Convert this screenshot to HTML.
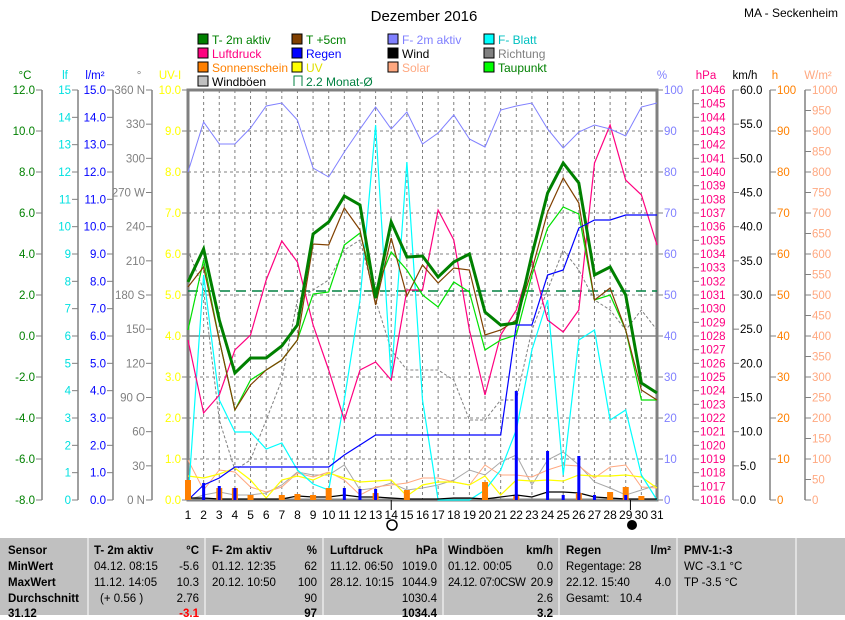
<!DOCTYPE html>
<html><head><meta charset="utf-8"><style>
body{margin:0;background:#fff;width:845px;height:615px;overflow:hidden;font-family:"Liberation Sans",sans-serif}
svg text{font-family:"Liberation Sans",sans-serif}
#tbl{position:absolute;left:0;top:538px;width:845px;height:77px;background:#c0c0c0;font-size:11.5px;font-family:"Liberation Sans",sans-serif}
#tbl div{position:absolute;white-space:nowrap}
</style></head><body>
<svg id="s" width="845" height="538" style="position:absolute;left:0;top:0" xmlns="http://www.w3.org/2000/svg"></svg>
<div id="tbl"></div>
<script>
var s=document.getElementById('s'),h='';
function L(x1,y1,x2,y2,c,w,d){h+='<line x1="'+x1+'" y1="'+y1+'" x2="'+x2+'" y2="'+y2+'" stroke="'+c+'" stroke-width="'+(w||1)+'"'+(d?' stroke-dasharray="'+d+'"':'')+'/>';}
function T(x,y,t,c,a,fs){h+='<text x="'+x+'" y="'+y+'" fill="'+c+'" font-size="'+(fs||12)+'" text-anchor="'+(a||'start')+'">'+t+'</text>';}
var X0=188,X1=657,Y0=90,Y1=500,dx=(X1-X0)/30;
function dxp(d){return X0+(d-1)*dx;}
T(424,21,'Dezember 2016','#000','middle',15);
T(838,17,'MA - Seckenheim','#000','end',12);
var lg=[[198,40,'#008000','T- 2m aktiv','#008000'],[292,40,'#804000','T +5cm','#008000'],[388,40,'#8080ff','F- 2m aktiv','#8080ff'],[484,40,'#00ffff','F- Blatt','#00c0c0'],
[198,54,'#ff0080','Luftdruck','#ff0080'],[292,54,'#0000ff','Regen','#0000ff'],[388,54,'#000','Wind','#000'],[484,54,'#808080','Richtung','#808080'],
[198,68,'#ff8000','Sonnenschein','#ff8000'],[292,68,'#ffff00','UV','#e0e000'],[388,68,'#ffa880','Solar','#ffa880'],[484,68,'#00ff00','Taupunkt','#008000'],
[198,82,'#c0c0c0','Windböen','#000']];
lg.forEach(function(a){h+='<rect x="'+a[0]+'" y="'+(a[1]-6)+'" width="10" height="10" fill="'+a[2]+'" stroke="#000"/>';T(a[0]+14,a[1]+4,a[3],a[4]);});
h+='<path d="M294,86 v-10 h8 v10" fill="none" stroke="#008040"/>';T(306,86,'2.2 Monat-Ø','#008040');
for(var d=2;d<=30;d++)L(dxp(d),Y0,dxp(d),Y1,'#808080',1,'3,3');
for(var i=1;i<10;i++)L(X0,Y0+i*41,X1,Y0+i*41,'#808080',1,'3,3');
L(X0,336,X1,336,'#808080',1.5);
function ax(x,c,lab,labx,vals){L(x,Y0,x,Y1,'#808080',1.5);T(labx,79,lab,c,'middle',11.5);var n=vals.length-1;vals.forEach(function(v,i){var y=Y0+(Y1-Y0)*i/n;L(x-6,y,x,y,'#808080');T(x-7,y+4,v,c,'end',11.5);});}
var a=[];for(var v=12;v>=-8;v-=2)a.push(v.toFixed(1));ax(42,'#008000','°C',25,a);
a=[];for(v=15;v>=0;v--)a.push(v);ax(78,'#00e0e0','lf',65,a);
a=[];for(v=15;v>=0;v--)a.push(v.toFixed(1));ax(113,'#0000ff','l/m²',95,a);
a=['360 N',330,300,'270 W',240,210,'180 S',150,120,'90 O',60,30,'0 N'];ax(152,'#808080','°',139,a);
a=[];for(v=10;v>=0;v--)a.push(v.toFixed(1));ax(188,'#ffff00','UV-I',170,a);
function axr(x,c,lab,labx,vals){L(x,Y0,x,Y1,'#808080',1.5);T(labx,79,lab,c,'middle',11.5);var n=vals.length-1;vals.forEach(function(v,i){var y=Y0+(Y1-Y0)*i/n;L(x,y,x+6,y,'#808080');T(x+7,y+4,v,c,'start',11.5);});}
a=[];for(v=100;v>=0;v-=10)a.push(v);axr(657,'#8080ff','%',662,a);
a=[];for(v=1046;v>=1016;v--)a.push(v);axr(693,'#ff0080','hPa',706,a);
a=[];for(v=60;v>=0;v-=5)a.push(v.toFixed(1));axr(733,'#000','km/h',745,a);
a=[];for(v=100;v>=0;v-=10)a.push(v);axr(770,'#ff8000','h',775,a);
a=[];for(v=1000;v>=0;v-=50)a.push(v);axr(805,'#ffa880','W/m²',818,a);
h+='<rect x="188" y="90" width="469" height="410" fill="none" stroke="#808080" stroke-width="3"/>';
function P(ys,c,w,d){var p=ys.map(function(y,i){return dxp(i+1).toFixed(1)+','+y;}).join(' ');h+='<polyline points="'+p+'" fill="none" stroke="'+c+'" stroke-width="'+(w||1)+'"'+(d?' stroke-dasharray="'+d+'"':'')+'/>';}
L(X0,291,X1,291,'#008040',1.5,'10,6');
P([250,290,420,470,460,420,380,300,290,280,250,240,300,350,370,370,370,380,420,420,400,400,330,290,250,270,300,310,330,310,330],'#808080',1,'3,2');
P([500,495,492,495,495,493,485,472,475,475,465,490,488,483,490,488,485,480,470,475,462,455,485,460,452,465,482,488,495,490,485],'#a8a8a8',1);
P([460,490,470,472,487,492,487,473,477,472,480,495,487,485,483,478,478,482,485,465,475,475,477,470,465,466,478,467,465,487,488],'#ffa880',1);
P([476,478,474,468,480,498,480,476,480,473,478,482,481,480,496,485,482,482,485,476,495,480,481,480,481,475,476,476,475,477,488],'#ffff00',1.2);
P([500,275,400,432,432,449,443,470,484,490,400,300,125,380,162,400,500,500,500,490,470,430,350,300,475,340,330,420,410,475,500],'#00ffff',1.2);
P([340,413,395,350,335,280,241,262,325,370,420,370,362,380,290,290,210,240,330,395,335,310,260,320,332,310,163,125,180,195,245],'#ff0080',1.2);
P([172,122,144,144,128,106,103,120,168,177,152,129,107,129,112,144,133,115,139,147,110,106,103,129,148,132,125,129,136,107,103],'#8080ff',1);
P([330,260,340,410,380,370,360,340,294,292,245,233,290,252,270,295,307,282,292,350,340,335,275,228,207,214,300,295,330,400,400],'#00e000',1.2);
P([287,267,340,410,385,370,360,340,244,245,208,230,305,238,296,265,283,268,270,335,330,320,270,212,178,203,300,288,330,390,400],'#804000',1.2);
P([282,249,320,373,358,358,346,325,234,222,196,205,298,222,257,256,277,262,254,312,325,323,255,193,163,183,275,267,295,383,393],'#008000',3);
P([500,485,478,467,467,467,467,467,467,467,455,445,435,435,435,435,435,435,435,435,435,325,325,275,270,228,220,220,215,215,215],'#0000ff',1.2);
P([498,498,499,499,499,499,499,496,497,497,495,497,497,498,499,499,499,498,498,499,497,495,497,492,492,493,497,498,499,499,499],'#000',1.2);
[[1,480],[3,488],[4,488],[5,495],[7,495],[8,494],[9,495],[10,488],[13,493],[15,490],[20,482],[22,496],[26,493],[28,492],[29,487],[30,496]].forEach(function(b){h+='<rect x="'+(dxp(b[0])-3)+'" y="'+b[1]+'" width="6" height="'+(500-b[1])+'" fill="#ff8000"/>';});
[[2,483],[3,486],[4,488],[11,488],[12,489],[13,489],[22,391],[24,451],[25,495],[26,456],[27,495],[29,495]].forEach(function(b){h+='<rect x="'+(dxp(b[0])-1.5)+'" y="'+b[1]+'" width="3" height="'+(500-b[1])+'" fill="#0000ff"/>';});
for(d=1;d<=31;d++)T(dxp(d),519,d,'#000','middle');
L(dxp(14),500,dxp(14),510,'#000');L(dxp(29.3),500,dxp(29.3),510,'#000');
h+='<circle cx="392" cy="525" r="5" fill="none" stroke="#000" stroke-width="1.5"/><circle cx="632" cy="525" r="5" fill="#000"/>';
s.innerHTML=h;
var tb=document.getElementById('tbl'),q='';
[87,204,322,442,558,676,795].forEach(function(x){q+='<div style="left:'+x+'px;top:0;width:2px;height:77px;background:#e0e0e0"></div>';});
function C(x,y,t,st,al){q+='<div style="'+(al?'right:'+(845-x):'left:'+x)+'px;top:'+y+'px;'+(st||'')+'">'+t+'</div>';}
var B='font-weight:bold;';
var r=[7,23,39,55,70];
C(8,r[0],'Sensor',B);C(8,r[1],'MinWert',B);C(8,r[2],'MaxWert',B);C(8,r[3],'Durchschnitt',B);C(8,r[4],'31.12',B);
C(94,r[0],'T- 2m aktiv',B);C(199,r[0],'°C',B,1);C(94,r[1],'04.12.  08:15');C(199,r[1],'-5.6','',1);C(94,r[2],'11.12.  14:05');C(199,r[2],'10.3','',1);C(100,r[3],'(+ 0.56 )');C(199,r[3],'2.76','',1);C(199,r[4],'-3.1','color:#f00;font-weight:bold',1);
C(212,r[0],'F- 2m aktiv',B);C(317,r[0],'%',B,1);C(212,r[1],'01.12.  12:35');C(317,r[1],'62','',1);C(212,r[2],'20.12.  10:50');C(317,r[2],'100','',1);C(317,r[3],'90','',1);C(317,r[4],'97',B,1);
C(330,r[0],'Luftdruck',B);C(437,r[0],'hPa',B,1);C(330,r[1],'11.12.  06:50');C(437,r[1],'1019.0','',1);C(330,r[2],'28.12.  10:15');C(437,r[2],'1044.9','',1);C(437,r[3],'1030.4','',1);C(437,r[4],'1034.4',B,1);
C(448,r[0],'Windböen',B);C(553,r[0],'km/h',B,1);C(448,r[1],'01.12.  00:05');C(553,r[1],'0.0','',1);C(448,r[2],'24.12. 07:0CSW','letter-spacing:-0.5px');C(553,r[2],'20.9','',1);C(553,r[3],'2.6','',1);C(553,r[4],'3.2',B,1);
C(566,r[0],'Regen',B);C(671,r[0],'l/m²',B,1);C(566,r[1],'Regentage: 28');C(566,r[2],'22.12.  15:40');C(671,r[2],'4.0','',1);C(566,r[3],'Gesamt:');C(642,r[3],'10.4','',1);
C(684,r[0],'PMV-1:-3',B);C(684,r[1],'WC -3.1 °C');C(684,r[2],'TP -3.5 °C');
tb.innerHTML=q;
</script>
</body></html>
